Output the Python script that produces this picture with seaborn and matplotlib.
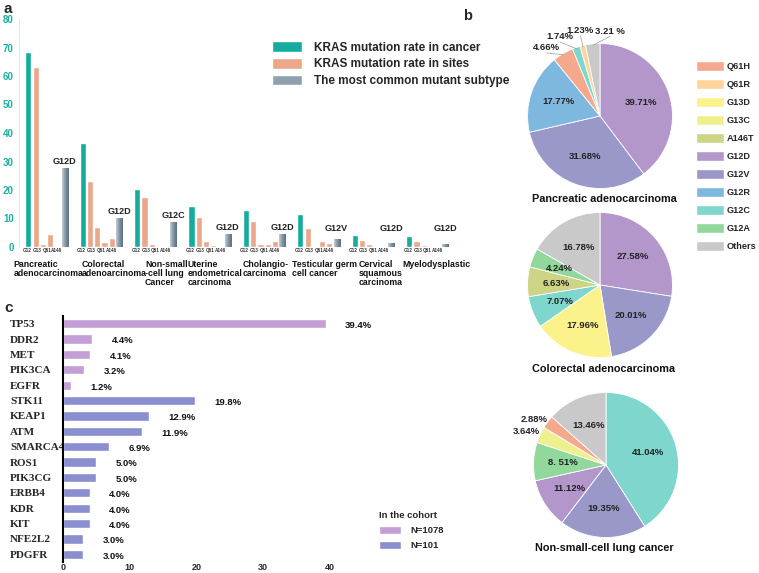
import numpy as np
import pandas as pd
import matplotlib
matplotlib.use("Agg")
import matplotlib.pyplot as plt
import matplotlib.transforms as mtransforms
from matplotlib.patches import Patch
from matplotlib.colors import LinearSegmentedColormap
import seaborn as sns

# ---------------- data: panel a ----------------
cancers = ["Pancreatic\nadenocarcinoma", "Colorectal\nadenoarcinoma",
           "Non-small\n-cell lung\nCancer", "Uterine\nendometrical\ncarcinoma",
           "Cholangio-\ncarcinoma", "Testicular germ\ncell cancer",
           "Cervical\nsquamous\ncarcinoma", "Myelodysplastic"]
rate_cancer = [68.5, 36.5, 20.5, 14.5, 13.0, 11.7, 4.3, 3.7]
rate_g12 = [63.0, 23.0, 17.5, 10.5, 9.0, 6.8, 2.4, 2.0]
rate_g13 = [1.0, 7.0, 1.0, 2.0, 1.2, 0.0, 0.9, 0.7]
rate_q61 = [4.5, 1.8, 0.4, 0.8, 1.2, 2.0, 0.2, 0.2]
rate_a146 = [0.3, 3.0, 0.2, 0.3, 2.0, 1.5, 0.3, 0.1]
rate_subtype = [27.5, 10.0, 8.5, 4.3, 4.3, 2.7, 1.4, 0.9]
subtype_names = ["G12D", "G12D", "G12C", "G12D", "G12D", "G12V", "G12D", "G12D"]
site_ticks = ["G12", "G13", "Q61", "A146"]
legend_a = ["KRAS mutation rate in cancer", "KRAS mutation rate in sites",
            "The most common mutant subtype"]
yticks_a = [0, 10, 20, 30, 40, 50, 60, 70, 80]

# ---------------- data: panel b ----------------
pie_titles = ["Pancreatic adenocarcinoma", "Colorectal adenocarcinoma",
              "Non-small-cell lung cancer"]
panc_labels = ["G12D", "G12V", "G12R", "Q61H", "G12C", "Q61R", "Others"]
panc_pct = [39.71, 31.68, 17.77, 4.66, 1.74, 1.23, 3.21]
panc_text = ["39.71%", "31.68%", "17.77%", "4.66%", "1.74%", "1.23%", "3.21 %"]
crc_labels = ["G12D", "G12V", "G13D", "G12C", "A146T", "G12A", "Others"]
crc_pct = [27.58, 20.01, 17.96, 7.07, 6.63, 4.24, 16.78]
crc_text = ["27.58%", "20.01%", "17.96%", "7.07%", "6.63%", "4.24%", "16.78%"]
nsclc_labels = ["G12C", "G12V", "G12D", "G12A", "G13C", "Q61H", "Others"]
nsclc_pct = [41.04, 19.35, 11.12, 8.51, 3.64, 2.88, 13.46]
nsclc_text = ["41.04%", "19.35%", "11.12%", "8. 51%", "3.64%", "2.88%", "13.46%"]
legend_b = ["Q61H", "Q61R", "G13D", "G13C", "A146T", "G12D", "G12V", "G12R",
            "G12C", "G12A", "Others"]

# ---------------- data: panel c ----------------
genes = ["TP53", "DDR2", "MET", "PIK3CA", "EGFR", "STK11", "KEAP1", "ATM",
         "SMARCA4", "ROS1", "PIK3CG", "ERBB4", "KDR", "KIT", "NFE2L2", "PDGFR"]
gene_pct = [39.4, 4.4, 4.1, 3.2, 1.2, 19.8, 12.9, 11.9, 6.9, 5.0, 5.0, 4.0,
            4.0, 4.0, 3.0, 3.0]
cohorts = ["N=1078"] * 5 + ["N=101"] * 11
cohort_order = ["N=1078", "N=101"]
xticks_c = [0, 10, 20, 30, 40]

# ---------------- styles ----------------
W, H = 759, 573
TEAL = "#14ad9d"
SALMON = "#eca68a"
SLATE = "#8a9dab"
PIE_COLORS = {"Q61H": "#f5a98c", "Q61R": "#fdd59c", "G13D": "#fbf28c",
              "G13C": "#eef08e", "A146T": "#cdd585", "G12D": "#b396ca",
              "G12V": "#9a98c9", "G12R": "#7fb8df", "G12C": "#7fd6cc",
              "G12A": "#92d79c", "Others": "#c9c9c9"}
PURPLE_C = "#c39fd6"
BLUE_C = "#8b8fcf"
NAME_DX = [-0.6, -0.35, -0.19, -0.4, -0.4, -0.49, -0.27, -0.45]
SITE_TICK_OFFSETS = np.linspace(-0.36, 0.19, 4)

sns.set_style("white")
plt.rcParams["font.family"] = ["Liberation Sans", "DejaVu Sans"]
plt.rcParams["font.weight"] = "bold"


def fx(x):
    return x / W


def fy(y):
    return 1 - y / H


fig = plt.figure(figsize=(W / 100, H / 100), dpi=100)

# ======================= panel a =======================
ax_a = fig.add_axes([fx(19.3), fy(247), (454.5 - 19.3) / W, 228 / H])
kinds = ["cancer", "G12", "G13", "Q61", "A146", "subtype"]
series = [rate_cancer, rate_g12, rate_g13, rate_q61, rate_a146, rate_subtype]
rows = []
for k, vals in zip(kinds, series):
    for c, v in zip(cancers, vals):
        rows.append({"cancer": c, "kind": k, "value": v})
df_a = pd.DataFrame(rows)
pal_a = {"cancer": TEAL, "G12": SALMON, "G13": SALMON, "Q61": SALMON,
         "A146": SALMON, "subtype": SLATE}
sns.barplot(data=df_a, x="cancer", y="value", hue="kind", hue_order=kinds,
            order=cancers, palette=pal_a, width=0.8, gap=0.15, saturation=1,
            legend=False, ax=ax_a)

# gradient for subtype bars
cmap_g = LinearSegmentedColormap.from_list("g", ["#c3ced6", "#8194a2", "#5a7080"])
grad = np.linspace(0, 1, 64).reshape(1, -1)
for p in ax_a.containers[5]:
    x0, w, h = p.get_x(), p.get_width(), p.get_height()
    if h > 0:
        ax_a.imshow(grad, cmap=cmap_g, extent=[x0, x0 + w, 0, h],
                    aspect="auto", zorder=p.get_zorder() + 0.1)
    p.set_facecolor("none")

# subtype labels
for p, name in zip(ax_a.containers[5], subtype_names):
    h = p.get_height()
    ax_a.text(p.get_x() + p.get_width() / 2, max(h + 1.0, 4.8), name,
              ha="center", va="bottom", fontsize=6.5, fontweight="bold",
              color="#222222")

# small site tick labels
tick_pos, tick_lab = [], []
for i in range(len(cancers)):
    for off, lab in zip(SITE_TICK_OFFSETS, site_ticks):
        tick_pos.append(i + off)
        tick_lab.append(lab)
ax_a.set_xticks(tick_pos)
ax_a.set_xticklabels(tick_lab, fontsize=3.3, fontweight="bold", color="#333333")
ax_a.tick_params(axis="x", length=0, pad=1)

trans = mtransforms.blended_transform_factory(ax_a.transData, ax_a.transAxes)
for i, name in enumerate(cancers):
    ax_a.text(i + NAME_DX[i], -0.058, name, transform=trans, ha="left",
              va="top", fontsize=6.3, fontweight="bold", linespacing=0.95,
              color="#111111")

ax_a.set_xlim(-0.5, 7.5)
ax_a.set_ylim(0, 80)
ax_a.set_yticks(yticks_a)
ax_a.set_yticklabels([str(t) for t in yticks_a], fontsize=7, fontweight="bold",
                     color="#1bb0a2")
ax_a.tick_params(axis="y", length=0, pad=4)
ax_a.set_xlabel("")
ax_a.set_ylabel("")
for s in ["top", "right", "bottom"]:
    ax_a.spines[s].set_visible(False)
ax_a.spines["left"].set_color("#d6eeeb")
ax_a.spines["left"].set_linewidth(0.8)

fig.legend(handles=[Patch(facecolor=TEAL), Patch(facecolor=SALMON),
                    Patch(facecolor="#8fa1ae")],
           labels=legend_a, loc="upper left", bbox_to_anchor=(fx(272), fy(41)),
           frameon=False, prop={"weight": "bold", "size": 8.5},
           handlelength=2.55, handleheight=1.05, labelspacing=0.36,
           handletextpad=1.0, borderpad=0, borderaxespad=0)

# ======================= panel b =======================
R = 72.5
pie_specs = [
    (panc_labels, panc_pct, panc_text, (600, 116), 5.0,
     [(-0.74, 0.94), (-0.55, 1.09), (-0.27, 1.18), (0.14, 1.17)], True, 199),
    (crc_labels, crc_pct, crc_text, (600, 285), 4.0, [], False, 369),
    (nsclc_labels, nsclc_pct, nsclc_text, (606, 465), 4.0,
     [(-1.10, 0.46), (-0.99, 0.63)], False, 548),
]
for (labs, pct, texts, (cx, cy), thr, outpos, leader, ty), title in zip(pie_specs, pie_titles):
    axp = fig.add_axes([fx(cx - R), fy(cy + R), 2 * R / W, 2 * R / H])
    wedges, _ = axp.pie(pct, colors=[PIE_COLORS[l] for l in labs],
                        startangle=90, counterclock=False, radius=1,
                        wedgeprops=dict(edgecolor="white", linewidth=0.6))
    axp.set_xlim(-1, 1)
    axp.set_ylim(-1, 1)
    k = 0
    for w, v, t in zip(wedges, pct, texts):
        ang = np.deg2rad((w.theta1 + w.theta2) / 2)
        if v < thr:
            tx, ty_ = outpos[k]
            k += 1
            if leader:
                axp.plot([np.cos(ang) * 0.98, tx], [np.sin(ang) * 0.98, ty_ - 0.07],
                         color="#9a9a9a", lw=0.5, clip_on=False)
            axp.text(tx, ty_, t, ha="center", va="center", fontsize=6.8,
                     fontweight="bold", color="#222222", clip_on=False)
        else:
            axp.text(0.6 * np.cos(ang), 0.6 * np.sin(ang), t, ha="center",
                     va="center", fontsize=6.8, fontweight="bold", color="#222222")
    fig.text(fx(604), fy(ty), title, ha="center", va="center", fontsize=7.8,
             fontweight="bold", color="#111111")

fig.legend(handles=[Patch(facecolor=PIE_COLORS[l]) for l in legend_b],
           labels=legend_b, loc="upper left", bbox_to_anchor=(fx(696), fy(61)),
           frameon=False, prop={"weight": "bold", "size": 6.6},
           handlelength=3.1, handleheight=1.35, labelspacing=0.84,
           handletextpad=0.25, borderpad=0, borderaxespad=0)

# ======================= panel c =======================
ax_c = fig.add_axes([fx(63), fy(562), 300 / W, 246 / H])
df_c = pd.DataFrame({"gene": genes, "pct": gene_pct, "cohort": cohorts})
sns.barplot(data=df_c, y="gene", x="pct", hue="cohort", hue_order=cohort_order,
            order=genes, palette={"N=1078": PURPLE_C, "N=101": BLUE_C},
            dodge=False, width=0.6, saturation=1, legend=False, orient="h",
            ax=ax_c)
for i, v in enumerate(gene_pct):
    ax_c.text(v + 2.9, i + 0.12, f"{v:.1f}%", ha="left", va="center",
              fontsize=6.8, fontweight="bold", color="#111111")
ax_c.set_xlim(0, 45)
ax_c.set_xticks(xticks_c)
ax_c.set_xticklabels([str(t) for t in xticks_c], fontsize=6.5, fontweight="bold")
ax_c.tick_params(axis="x", length=0, pad=1)
ax_c.tick_params(axis="y", length=0, pad=38)
for lab in ax_c.get_yticklabels():
    lab.set_horizontalalignment("left")
    lab.set_fontfamily(["Liberation Serif", "DejaVu Serif"])
    lab.set_fontweight("bold")
    lab.set_fontsize(8)
ax_c.set_xlabel("")
ax_c.set_ylabel("")
for s in ["top", "right", "bottom"]:
    ax_c.spines[s].set_visible(False)
ax_c.spines["left"].set_color("black")
ax_c.spines["left"].set_linewidth(1.5)

fig.legend(handles=[Patch(facecolor=PURPLE_C), Patch(facecolor=BLUE_C)],
           labels=cohort_order, title="In the cohort", loc="upper left",
           bbox_to_anchor=(fx(379), fy(511)), frameon=False,
           prop={"weight": "bold", "size": 6.8},
           title_fontproperties={"weight": "bold", "size": 6.8},
           alignment="left", handlelength=2.3, handleheight=0.95,
           labelspacing=0.6, handletextpad=1.0, borderpad=0, borderaxespad=0)

# panel letters
fig.text(fx(3), fy(9), "a", fontsize=11, fontweight="bold", va="center")
fig.text(fx(463), fy(16), "b", fontsize=10.5, fontweight="bold", va="center")
fig.text(fx(4), fy(308), "c", fontsize=11, fontweight="bold", va="center")

fig.savefig("out.png", dpi=100)
